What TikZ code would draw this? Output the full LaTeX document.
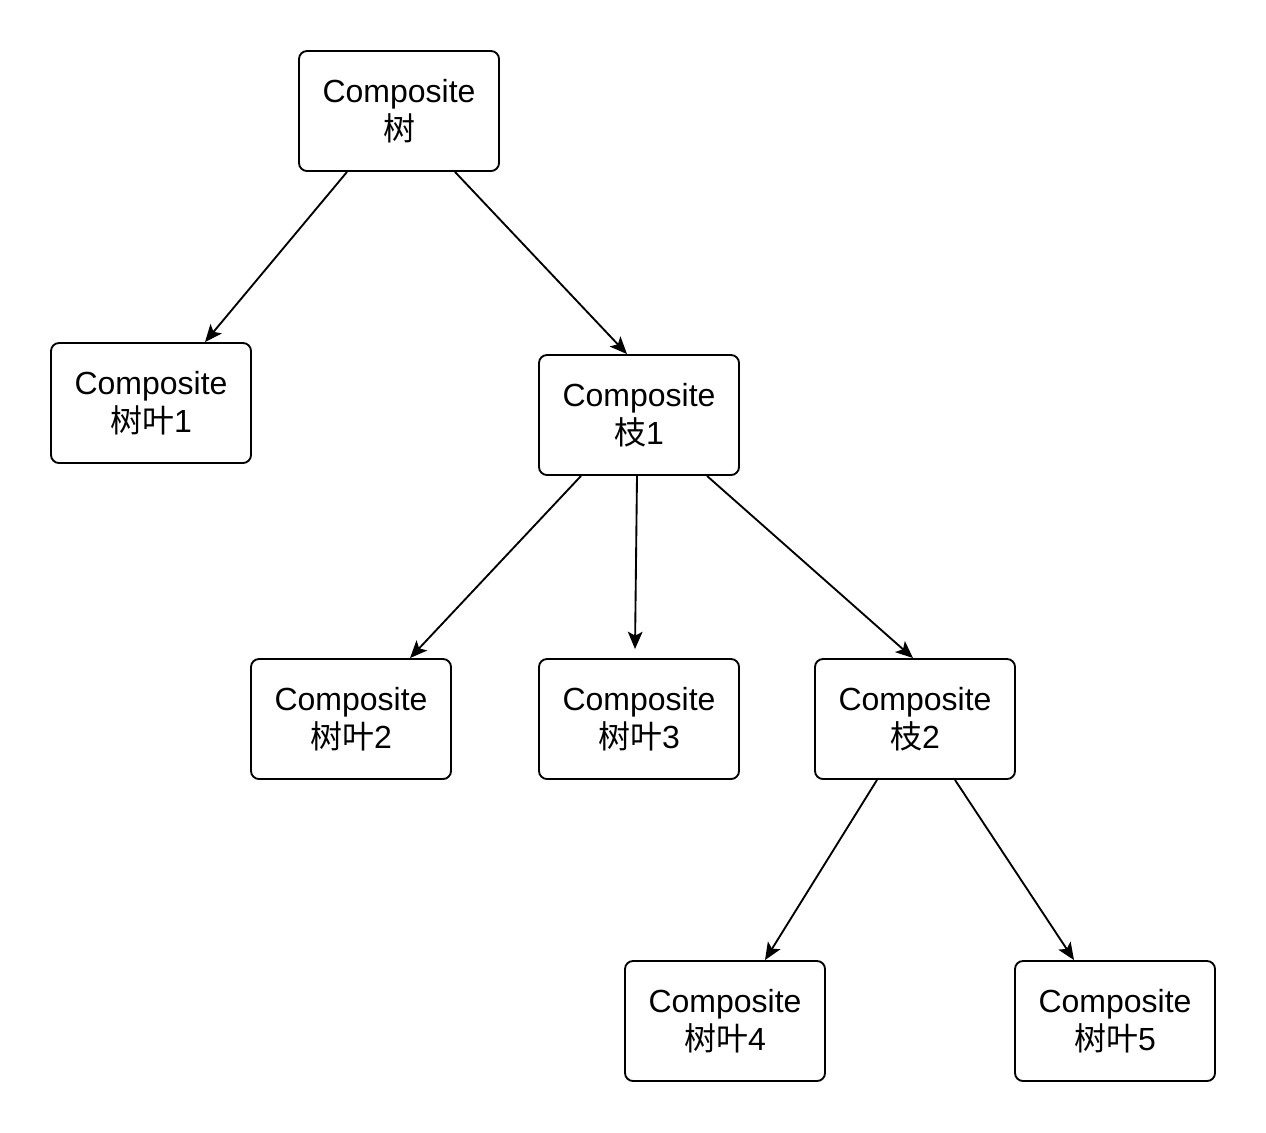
\documentclass[tikz,border=0pt]{standalone}
\usepackage{fontspec}
\setmainfont{Liberation Sans}
\newfontfamily\cjk{Noto Sans CJK SC}
\usetikzlibrary{arrows.meta}
\tikzset{
every picture/.style={
line width=1.4pt
}}

\begin{document}
\begin{tikzpicture}[x=0.75pt, y=-0.75pt,
block/.style = {rectangle, draw=black, rounded corners=6pt, align=center,
  minimum width=150pt, minimum height=90pt, inner sep=0pt,
  font=\fontsize{24}{28.5}\selectfont},
link/.style = {-{Stealth[length=13pt, width=11pt, inset=3pt]}}]

  \useasboundingbox (0,0) rectangle (1266,1132);

  \node[block] (tree)    at (399,111)  {Composite\\{\cjk 树}};
  \node[block] (leaf1)   at (151,403)  {Composite\\{\cjk 树叶}1};
  \node[block] (branch1) at (639,415)  {Composite\\{\cjk 枝}1};
  \node[block] (leaf2)   at (351,719)  {Composite\\{\cjk 树叶}2};
  \node[block] (leaf3)   at (639,719)  {Composite\\{\cjk 树叶}3};
  \node[block] (branch2) at (915,719)  {Composite\\{\cjk 枝}2};
  \node[block] (leaf4)   at (725,1021) {Composite\\{\cjk 树叶}4};
  \node[block] (leaf5)   at (1115,1021) {Composite\\{\cjk 树叶}5};

  \draw[link] ([xshift=-39pt]tree.south) -- ([xshift=40.5pt]leaf1.north);
  \draw[link] ([xshift=42pt]tree.south) -- ([xshift=-9pt]branch1.north);
  \draw[link] ([xshift=-43.5pt]branch1.south) -- ([xshift=44.25pt]leaf2.north);
  \draw[link] ([xshift=-1.5pt]branch1.south) -- ([xshift=-3pt, yshift=6.75pt]leaf3.north);
  \draw[link] ([xshift=51pt]branch1.south) -- ([xshift=-1.5pt]branch2.north);
  \draw[link] ([xshift=-28.5pt]branch2.south) -- ([xshift=30pt]leaf4.north);
  \draw[link] ([xshift=30pt]branch2.south) -- ([xshift=-30.75pt]leaf5.north);

\end{tikzpicture}
\end{document}
